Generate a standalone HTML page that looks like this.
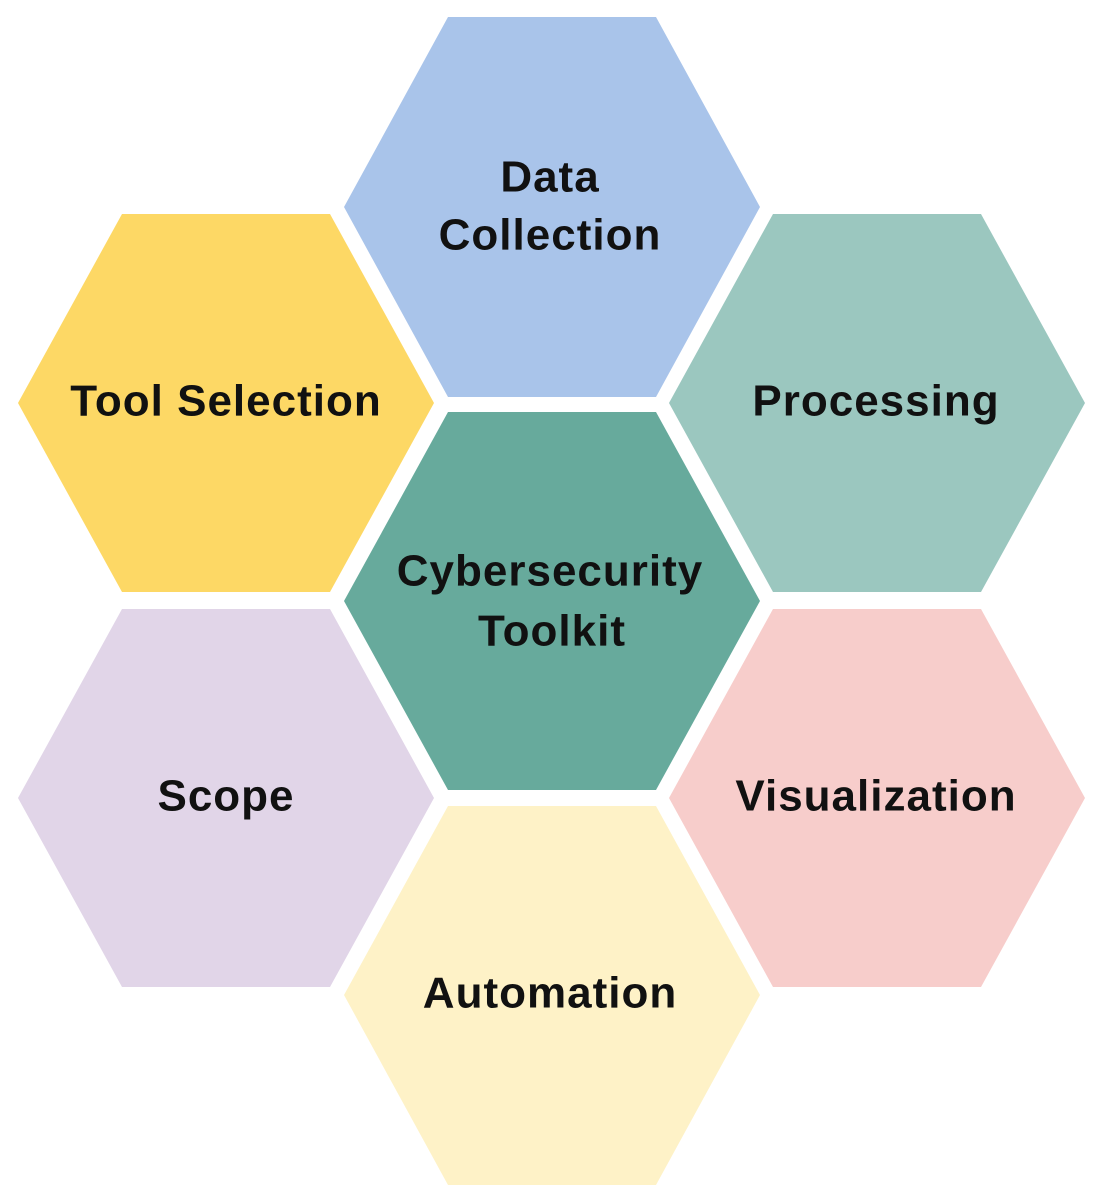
<!DOCTYPE html>
<html><head><meta charset="utf-8"><style>
html,body{margin:0;padding:0;background:#fff;}
svg{display:block;}
text{font-family:"Liberation Sans",Arial,sans-serif;font-weight:bold;font-size:44px;letter-spacing:1px;fill:#111;text-anchor:middle;dominant-baseline:middle;}
</style></head><body>
<svg width="1100" height="1199" viewBox="0 0 1100 1199" xmlns="http://www.w3.org/2000/svg">
<polygon points="448,17 656,17 760,207 656,397 448,397 344,207" fill="#A9C4EA"/>
<polygon points="122,214 330,214 434,403 330,592 122,592 18,403" fill="#FDD865"/>
<polygon points="773,214 981,214 1085,403 981,592 773,592 669,403" fill="#9BC7BF"/>
<polygon points="448,412 656,412 760,601 656,790 448,790 344,601" fill="#67AA9C"/>
<polygon points="122,609 330,609 434,798 330,987 122,987 18,798" fill="#E1D5E8"/>
<polygon points="773,609 981,609 1085,798 981,987 773,987 669,798" fill="#F7CDCB"/>
<polygon points="448,806 656,806 760,995 656,1185 448,1185 344,995" fill="#FEF2C7"/>
<text x="550" y="180">Data</text>
<text x="550" y="238">Collection</text>
<text x="226" y="404">Tool Selection</text>
<text x="876" y="404">Processing</text>
<text x="550" y="574">Cybersecurity</text>
<text x="552" y="634">Toolkit</text>
<text x="226" y="799">Scope</text>
<text x="876" y="799">Visualization</text>
<text x="550" y="996">Automation</text>
</svg>
</body></html>
